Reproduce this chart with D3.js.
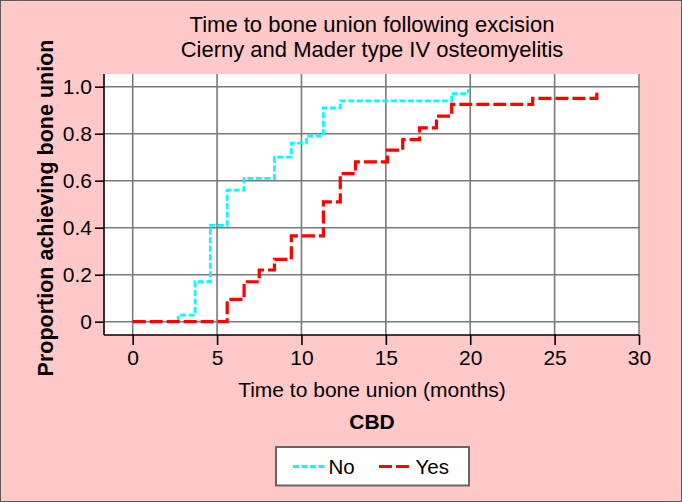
<!DOCTYPE html>
<html>
<head>
<meta charset="utf-8">
<script src="https://cdn.jsdelivr.net/npm/d3@7"></script>
<style>
  html, body { margin: 0; padding: 0; background: #ffc9c9; }
  svg { display: block; }
  text { font-family: "Liberation Sans", Arial, Helvetica, sans-serif; fill: #000; }
</style>
</head>
<body>
<svg id="chart" width="682" height="502"></svg>
<script>
// ---- data ----
const titleLines = ["Time to bone union following excision", "Cierny and Mader type IV osteomyelitis"];
const xTicks = [0, 5, 10, 15, 20, 25, 30];
const yTicks = [0, 0.2, 0.4, 0.6, 0.8, 1.0];
const yTickLabels = ["0", "0.2", "0.4", "0.6", "0.8", "1.0"];
const seriesNames = ["No", "Yes"];
// "No" group: time of each step (months) and proportion after the step
const noTimes = [2.7, 2.7, 3.7, 4.6, 5.6, 6.6, 8.4, 9.4, 10.3, 11.3, 12.3, 18.9, 19.9];
const noProps = [0, 0.028, 0.17, 0.41, 0.56, 0.61, 0.70, 0.76, 0.79, 0.91, 0.94, 0.97, 0.99];
// "Yes" group
const yesTimes = [0, 5.6, 6.6, 7.5, 8.4, 9.4, 11.3, 12.3, 13.2, 15.1, 16.0, 17.0, 18.0, 18.9, 23.7, 27.5];
const yesProps = [0, 0.095, 0.17, 0.22, 0.265, 0.365, 0.51, 0.63, 0.68, 0.73, 0.775, 0.825, 0.875, 0.925, 0.95, 0.98];

// ---- layout ----
const W = 682, H = 502;
const plot = { left: 104, right: 640, top: 74, bottom: 335 };
const svg = d3.select("#chart");

// outer background and border
svg.append("rect").attr("x", 0.5).attr("y", 0.5).attr("width", W - 1).attr("height", H - 1)
  .attr("fill", "#ffc9c9").attr("stroke", "#5a5a5a").attr("stroke-width", 1);

const x = d3.scaleLinear().domain([-1.7, 30]).range([plot.left, 639]);
const y = d3.scaleLinear().domain([0, 1]).range([321.7, 86.7]);

// plot area
svg.append("rect").attr("x", plot.left).attr("y", plot.top)
  .attr("width", plot.right - plot.left).attr("height", plot.bottom - plot.top)
  .attr("fill", "#ffffff");

// grid
const grid = svg.append("g").attr("stroke", "#7a7a7a").attr("stroke-width", 1.6);
grid.selectAll("line.v").data(xTicks).join("line")
  .attr("x1", d => x(d)).attr("x2", d => x(d))
  .attr("y1", plot.top).attr("y2", plot.bottom);
grid.selectAll("line.h").data(yTicks).join("line")
  .attr("x1", plot.left).attr("x2", plot.right)
  .attr("y1", d => y(d)).attr("y2", d => y(d));

// axes
const xAxis = d3.axisBottom(x).tickValues(xTicks).tickSize(10).tickPadding(5).tickSizeOuter(0);
const gx = svg.append("g").attr("transform", `translate(0,${plot.bottom})`).call(xAxis);
gx.select(".domain").attr("d", `M${plot.left},0H${x(30)}`);
const yAxis = d3.axisLeft(y).tickValues(yTicks).tickFormat((d, i) => yTickLabels[i])
  .tickSize(9).tickPadding(3).tickSizeOuter(0);
const gy = svg.append("g").attr("transform", `translate(${plot.left},0)`).call(yAxis);
gy.select(".domain").attr("d", `M0,${plot.top}V${plot.bottom}`);
[gx, gy].forEach(g => {
  g.selectAll(".domain").attr("stroke", "#000").attr("stroke-width", 1.6);
  g.selectAll(".tick line").attr("stroke", "#000").attr("stroke-width", 1.6);
  g.selectAll(".tick text").attr("font-size", 21)
    .attr("font-family", "'Liberation Sans', Arial, sans-serif").attr("fill", "#000");
});

// step curves
const line = d3.line().x(d => x(d[0])).y(d => y(d[1])).curve(d3.curveStepAfter);
const noPts = noTimes.map((t, i) => [t, noProps[i]]);
const yesPts = yesTimes.map((t, i) => [t, yesProps[i]]);
const styles = {
  No: { color: "#00ffff", dash: "6,2.5", width: 2.8 },
  Yes: { color: "#ff0000", dash: "13,4", width: 3.2 }
};
svg.append("path").datum(noPts).attr("d", line).attr("fill", "none")
  .attr("stroke", styles.No.color).attr("stroke-width", styles.No.width)
  .attr("stroke-dasharray", styles.No.dash);
svg.append("path").datum(yesPts).attr("d", line).attr("fill", "none")
  .attr("stroke", styles.Yes.color).attr("stroke-width", styles.Yes.width)
  .attr("stroke-dasharray", styles.Yes.dash);

// titles
const cx = (plot.left + plot.right) / 2;
svg.selectAll("text.title").data(titleLines).join("text").attr("class", "title")
  .attr("x", cx).attr("y", (d, i) => 32.3 + i * 25)
  .attr("text-anchor", "middle").attr("font-size", 22).text(d => d);

svg.append("text").attr("x", cx).attr("y", 397).attr("text-anchor", "middle")
  .attr("font-size", 21).text("Time to bone union (months)");
svg.append("text").attr("x", cx).attr("y", 429).attr("text-anchor", "middle")
  .attr("font-size", 21).attr("font-weight", "bold").text("CBD");
svg.append("text").attr("transform", "translate(53,208) rotate(-90)")
  .attr("text-anchor", "middle").attr("font-size", 21.5).attr("font-weight", "bold")
  .text("Proportion achieving bone union");

// legend
const lg = svg.append("g");
lg.append("rect").attr("x", 276).attr("y", 447).attr("width", 193).attr("height", 38.5)
  .attr("fill", "#fff").attr("stroke", "#666").attr("stroke-width", 2);
const legendItems = [
  { name: seriesNames[0], x0: 293, x1: 325, tx: 328.5 },
  { name: seriesNames[1], x0: 379, x1: 410, tx: 415.5 }
];
legendItems.forEach(it => {
  const s = styles[it.name];
  lg.append("line").attr("x1", it.x0).attr("x2", it.x1).attr("y1", 466.5).attr("y2", 466.5)
    .attr("stroke", s.color).attr("stroke-width", s.width).attr("stroke-dasharray", s.dash);
  lg.append("text").attr("x", it.tx).attr("y", 474.3).attr("font-size", 20.5).text(it.name);
});
</script>
</body>
</html>
